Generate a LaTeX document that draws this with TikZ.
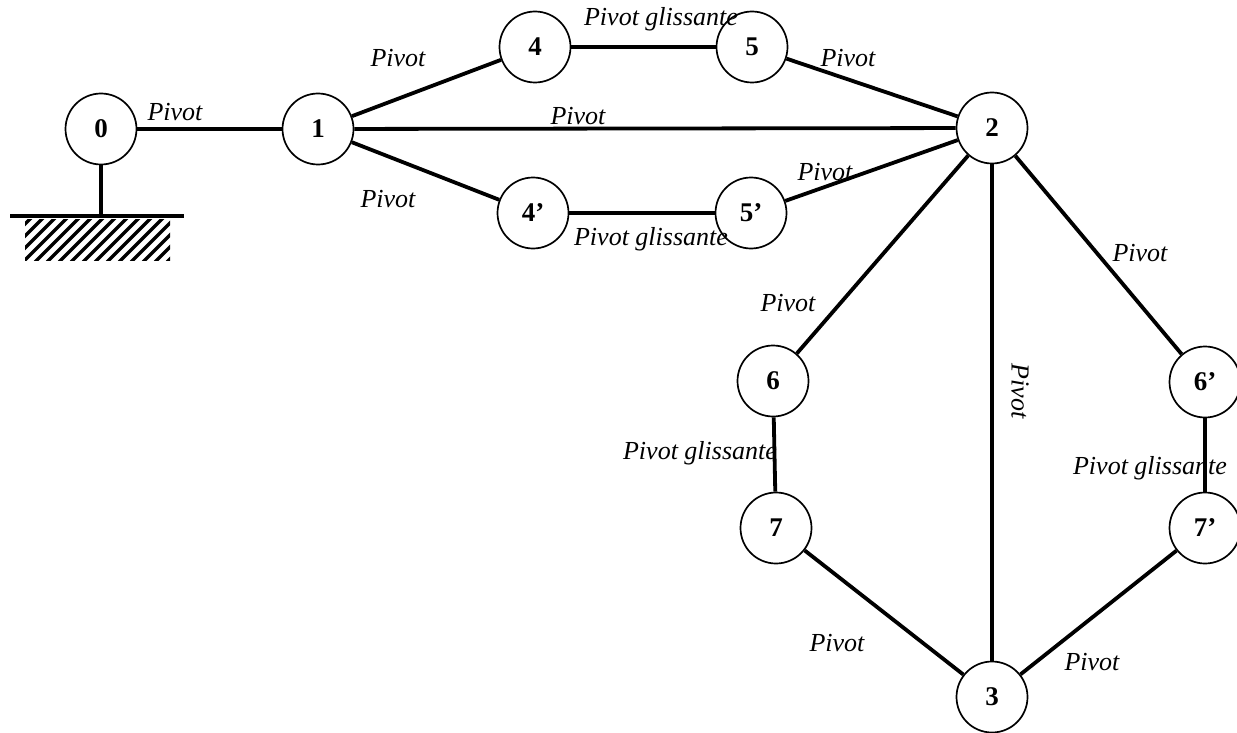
\documentclass[tikz,border=0pt]{standalone}
\usepackage{fontspec}
\setmainfont{Liberation Serif}
\begin{document}
\begin{tikzpicture}[x=0.5pt,y=-0.5pt,
  part/.style={circle,draw,line width=0.85pt,minimum size=35.5pt,inner sep=0pt,font=\fontsize{13.5}{15}\selectfont\bfseries},
  edge/.style={line width=1.9pt},
  lab/.style={font=\fontsize{13}{15}\selectfont\itshape,inner sep=0pt}]
\useasboundingbox (0,0) rectangle (1237,733);
% parts
\node[part] (n0) at (101,129) {0};
\node[part] (n1) at (318,129) {1};
\node[part] (n4) at (535,47) {4};
\node[part] (n5) at (752,47) {5};
\node[part] (n2) at (992,128) {2};
\node[part] (n4p) at (533,213) {4'};
\node[part] (n5p) at (751,213) {5'};
\node[part] (n6) at (773,381) {6};
\node[part] (n6p) at (1205,382) {6'};
\node[part] (n7) at (776,528) {7};
\node[part] (n7p) at (1205,528) {7'};
\node[part] (n3) at (992,697) {3};
% ground
\coordinate (g) at (101,216);
\coordinate (gl) at (10,216);
\coordinate (gr) at (184,216);
\draw[edge] (n0) -- (g);
\draw[edge] (gl) -- (gr);
\begin{scope}
\clip (25,219) rectangle (170,260);
\foreach \i in {0,...,16} {
  \draw[line width=1.7pt] (25+\i*12-50,262) -- (25+\i*12,212);
}
\end{scope}
% connectors
\draw[edge] (n0) -- (n1);
\draw[edge] (n1) -- (n4);
\draw[edge] (n4) -- (n5);
\draw[edge] (n5) -- (n2);
\draw[edge] (n1) -- (n2);
\draw[edge] (n1) -- (n4p);
\draw[edge] (n4p) -- (n5p);
\draw[edge] (n5p) -- (n2);
\draw[edge] (n2) -- (n6);
\draw[edge] (n2) -- (n6p);
\draw[edge] (n2) -- (n3);
\draw[edge] (n6) -- (n7);
\draw[edge] (n6p) -- (n7p);
\draw[edge] (n7) -- (n3);
\draw[edge] (n7p) -- (n3);
% labels
\node[lab] (l01) at (175,112) {Pivot};
\node[lab] (l14) at (398,58) {Pivot};
\node[lab] (l45) at (661,19) {Pivot glissante};
\node[lab] (l52) at (848,58) {Pivot};
\node[lab] (l12) at (578,116) {Pivot};
\node[lab] (l14p) at (388,199) {Pivot};
\node[lab] (l45p) at (651,239) {Pivot glissante};
\node[lab] (l5p2) at (825,172) {Pivot};
\node[lab] (l26p) at (1140,253) {Pivot};
\node[lab] (l26) at (788,303) {Pivot};
\node[lab,rotate=-90] (l23) at (1020,391) {Pivot};
\node[lab] (l67) at (700,453) {Pivot glissante};
\node[lab] (l6p7p) at (1150,468) {Pivot glissante};
\node[lab] (l73) at (837,643) {Pivot};
\node[lab] (l7p3) at (1092,662) {Pivot};
\end{tikzpicture}
\end{document}
